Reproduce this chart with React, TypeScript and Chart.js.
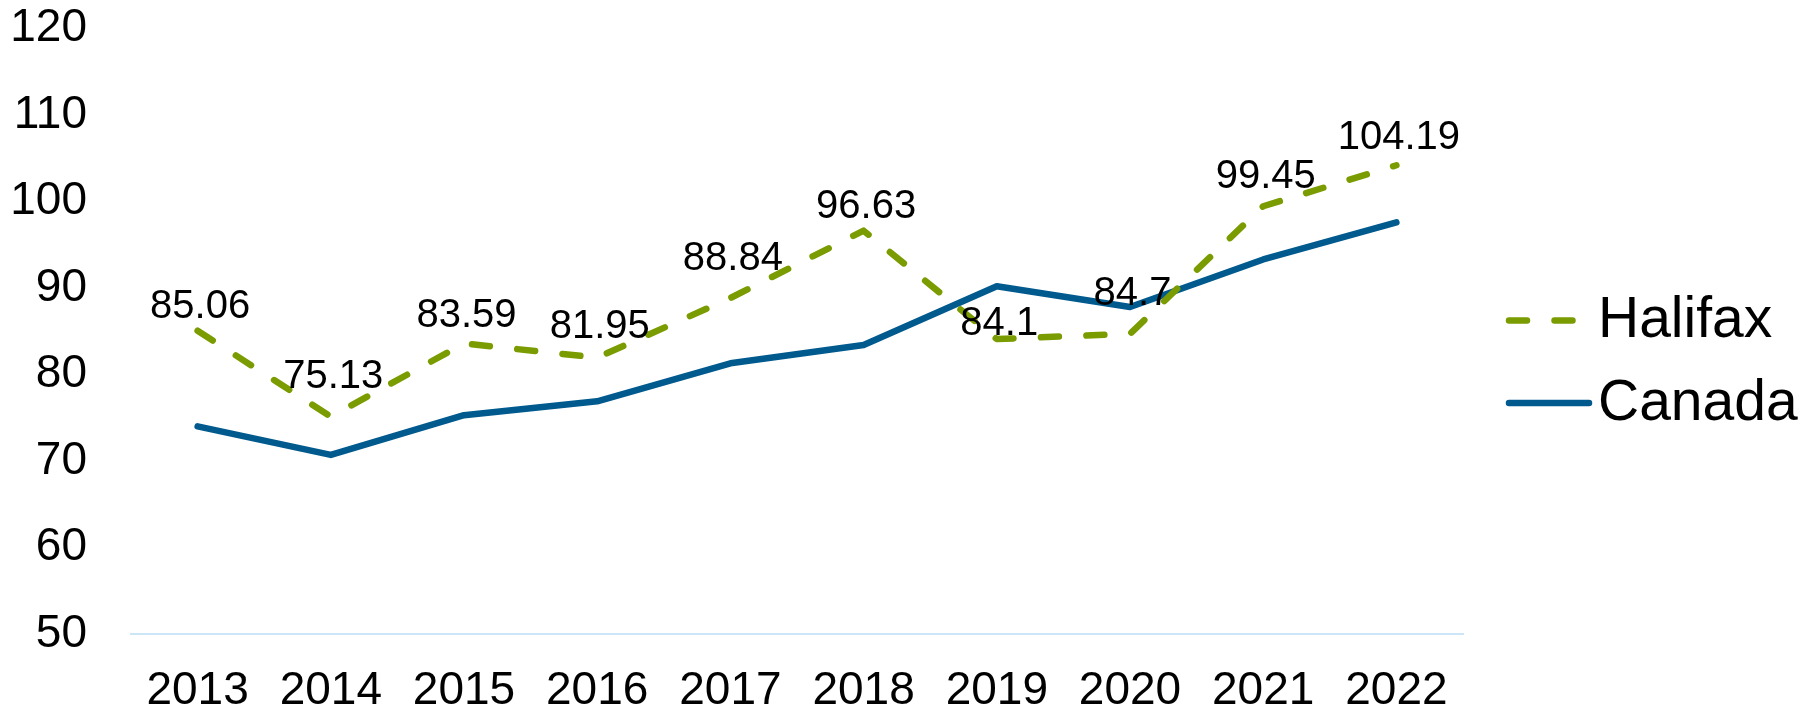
import React, { useEffect, useRef } from "react";
import { Chart, registerables } from "chart.js";

Chart.register(...registerables);

// ---- data ----
const years = ["2013", "2014", "2015", "2016", "2017", "2018", "2019", "2020", "2021", "2022"];
const halifax = [85.06, 75.13, 83.59, 81.95, 88.84, 96.63, 84.1, 84.7, 99.45, 104.19];
const canada = [74.0, 70.7, 75.3, 76.9, 81.3, 83.4, 90.2, 87.8, 93.3, 97.6];
const yMin = 50;
const yMax = 120;
const yStep = 10;

// ---- style ----
const FONT = "Arial, 'Liberation Sans', sans-serif";
const GREEN = "#7a9c01";
const BLUE = "#005a8e";
const AXIS_BLUE = "rgb(204,230,248)";
const HALIFAX_DASH = [18, 27.5];
// vertical lift (px) of each Halifax value label above its point, as placed in the reference
const labelLift = [13, 29, 16, 20, 28, 13, 4, 29, 18, 16];

const valueLabels = {
  id: "valueLabels",
  afterDatasetsDraw(chart: any) {
    const ctx = chart.ctx;
    const meta = chart.getDatasetMeta(0);
    const values = chart.data.datasets[0].data as number[];
    ctx.save();
    ctx.font = `40px ${FONT}`;
    ctx.fillStyle = "#000";
    ctx.textAlign = "center";
    ctx.textBaseline = "alphabetic";
    meta.data.forEach((pt: any, i: number) => {
      ctx.fillText(String(values[i]), pt.x + 2.5, pt.y - labelLift[i]);
    });
    ctx.restore();
  },
};

const sideLegend = {
  id: "sideLegend",
  afterDraw(chart: any) {
    const ctx = chart.ctx;
    const area = chart.chartArea;
    const x0 = area.right + 46;
    const lineLen = 80;
    const rowGap = 82.5;
    const y0 = 320.5;
    ctx.save();
    chart.data.datasets.forEach((ds: any, i: number) => {
      const y = y0 + i * rowGap;
      ctx.beginPath();
      ctx.strokeStyle = ds.borderColor;
      ctx.lineWidth = ds.borderWidth;
      ctx.lineCap = "round";
      ctx.setLineDash(ds.borderDash || []);
      ctx.moveTo(x0, y);
      ctx.lineTo(x0 + lineLen, y);
      ctx.stroke();
      ctx.setLineDash([]);
      ctx.font = `57px ${FONT}`;
      ctx.fillStyle = "#000";
      ctx.textAlign = "left";
      ctx.textBaseline = "middle";
      ctx.fillText(ds.label, x0 + lineLen + 9, y + 1);
    });
    ctx.restore();
  },
};

export default function App() {
  const ref = useRef<HTMLCanvasElement | null>(null);

  useEffect(() => {
    document.body.style.margin = "0";
    const canvas = ref.current;
    if (!canvas) return;
    const chart = new Chart(canvas, {
      type: "line",
      data: {
        labels: years,
        datasets: [
          {
            label: "Halifax",
            data: halifax,
            borderColor: GREEN,
            backgroundColor: GREEN,
            borderWidth: 6.5,
            borderDash: HALIFAX_DASH,
            borderCapStyle: "round",
            borderJoinStyle: "round",
            pointRadius: 0,
            pointHoverRadius: 0,
            tension: 0,
            fill: false,
          },
          {
            label: "Canada",
            data: canada,
            borderColor: BLUE,
            backgroundColor: BLUE,
            borderWidth: 6.5,
            borderCapStyle: "round",
            borderJoinStyle: "round",
            pointRadius: 0,
            pointHoverRadius: 0,
            tension: 0,
            fill: false,
          },
        ],
      },
      options: {
        responsive: false,
        animation: false,
        devicePixelRatio: 1,
        layout: { padding: { left: 0, top: 28.5, right: 355, bottom: 0 } },
        plugins: {
          legend: { display: false },
          title: { display: false },
          tooltip: { enabled: false },
        },
        scales: {
          x: {
            type: "category",
            offset: true,
            grid: { display: false, drawTicks: false },
            border: { display: true, color: AXIS_BLUE, width: 2 },
            ticks: {
              color: "#000",
              font: { family: FONT, size: 46 },
              padding: 30,
              maxRotation: 0,
              autoSkip: false,
            },
            afterFit: (s: any) => {
              s.height = 74;
              s.paddingLeft = 0;
              s.paddingRight = 0;
              s.paddingTop = 0;
              s.paddingBottom = 0;
            },
          },
          y: {
            min: yMin,
            max: yMax,
            grid: { display: false, drawTicks: false },
            border: { display: false },
            ticks: {
              stepSize: yStep,
              color: "#000",
              font: { family: FONT, size: 46 },
              padding: 44,
            },
            afterFit: (s: any) => {
              s.width = 131;
              s.paddingTop = 0;
              s.paddingBottom = 0;
              s.paddingLeft = 0;
              s.paddingRight = 0;
            },
          },
        },
      },
      plugins: [valueLabels, sideLegend],
    });
    return () => chart.destroy();
  }, []);

  return (
    <div style={{ width: 1818, height: 708, position: "relative", background: "#fff" }}>
      <canvas ref={ref} width={1818} height={708} style={{ display: "block" }} />
    </div>
  );
}
